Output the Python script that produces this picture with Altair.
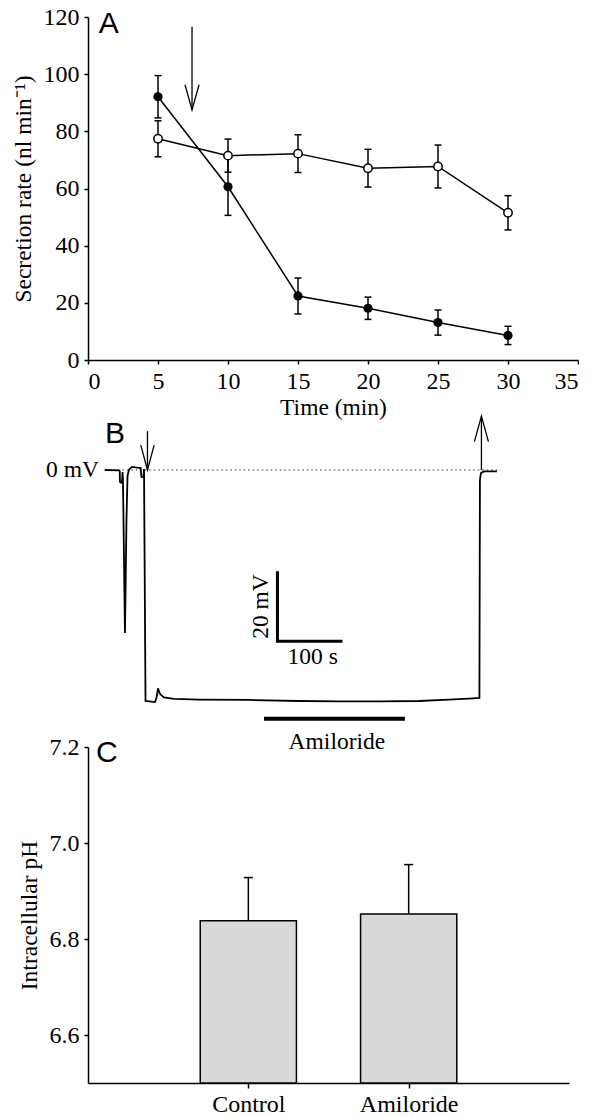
import altair as alt
import pandas as pd

SERIF = "Liberation Serif"
SANS = "Liberation Sans"

# ---------------- Panel A data ----------------
time_min = [5, 10, 15, 20, 25, 30]
rate_open = [77.4, 71.5, 72.2, 67.1, 67.7, 51.5]
err_open = [6.3, 5.8, 6.6, 6.6, 7.5, 6.0]
rate_filled = [92.1, 60.6, 22.4, 18.1, 13.1, 8.6]
err_filled = [7.4, 10.0, 6.3, 3.9, 4.4, 3.2]
a_xticks = [0, 5, 10, 15, 20, 25, 30, 35]
a_yticks = [0, 20, 40, 60, 80, 100, 120]
arrow_a_seg = ["shaft", "shaft", "head", "head", "head"]
arrow_a_x = [7.43, 7.43, 6.93, 7.43, 7.93]
arrow_a_y = [116.6, 87.5, 96.3, 87.5, 96.3]
label_a = ["A"]
label_a_x = [0.76]
label_a_y = [114.4]

# ---------------- Panel B data ----------------
trace_t = [1.2, 22.7, 23.8, 24.2, 27.3, 28.1, 28.8, 31.9, 34.2, 35.8, 38.1, 42.7,
           50.4, 55.8, 57.3, 60.4, 61.2, 63.5, 78.1, 80.4, 82.7, 85.8, 91.9,
           107.3, 145.8, 222.7, 299.6, 361.2, 422.7, 484.2, 530.4, 561.2, 577.3,
           578.1, 579.6, 584.2, 604.2]
trace_mv = [0.0, -0.1, -0.3, -3.4, -3.7, -0.6, -2.9, -46.6, -14.3, -1.7, 0.1, 0.9,
            0.7, 0.6, -2.0, -2.0, 0.3, -66.0, -66.3, -65.1, -62.4, -64.0, -65.0,
            -65.4, -65.6, -65.7, -66.0, -66.1, -66.1, -66.0, -65.6, -65.3, -65.1,
            -2.9, -0.9, -0.4, -0.4]
zero_line_t = [0, 610]
arrow_b_id = ["d_shaft", "d_shaft", "d_head", "d_head", "d_head",
              "u_shaft", "u_shaft", "u_head", "u_head", "u_head"]
arrow_b_t = [66.5, 66.5, 56.2, 66.5, 76.8, 580.4, 580.4, 569.6, 580.4, 591.2]
arrow_b_mv = [11.1, 0.0, 7.1, 0.0, 7.1, 0.0, 15.4, 8.1, 15.4, 8.1]
scalebar_t = [266.5, 266.5, 366.5]
scalebar_mv = [-28.9, -48.9, -48.9]
drug_bar_t = [245.8, 462.7]
drug_bar_mv = -71.1
zero_label = ["0 mV"]
zero_label_t = [-8.1]
zero_label_mv = [0.0]
b_texts = ["100 s", "Amiloride"]
b_text_t = [320.8, 358.0]
b_text_mv = [-53.3, -77.6]
scale_v_label = ["20 mV"]
scale_v_t = [241.0]
scale_v_mv = [-39.0]
label_b = ["B"]
label_b_t = [1.2]
label_b_mv = [7.7]

# ---------------- Panel C data ----------------
c_categories = ["Control", "Amiloride"]
c_pos = [1, 2]
c_ph = [6.838, 6.852]
c_err = [0.090, 0.103]
c_yticks = [6.6, 6.8, 7.0, 7.2]
label_c = ["C"]
label_c_x = [0.05]
label_c_y = [7.169]

# ================= Panel A =================
dfA = pd.DataFrame({
    "t": time_min * 2,
    "rate": rate_open + rate_filled,
    "err": err_open + err_filled,
    "series": ["open"] * 6 + ["filled"] * 6,
})
dfA["lo"] = dfA["rate"] - dfA["err"]
dfA["hi"] = dfA["rate"] + dfA["err"]
dfOpen = dfA[dfA["series"] == "open"].reset_index(drop=True)
dfFilled = dfA[dfA["series"] == "filled"].reset_index(drop=True)

xA = alt.X("t:Q", scale=alt.Scale(domain=[0, 35], nice=False),
           axis=alt.Axis(values=a_xticks, title="Time (min)", titlePadding=2))
yA = alt.Y("lo:Q", scale=alt.Scale(domain=[0, 120], nice=False),
           axis=alt.Axis(values=a_yticks, title="Secretion rate (nl min\u207b\u00b9)",
                         titlePadding=8))

baseA = alt.Chart(dfA)
errA = baseA.mark_rule(color="black", strokeWidth=1.5).encode(x=xA, y=yA, y2="hi:Q")
capLoA = baseA.mark_point(shape="stroke", size=49, strokeWidth=1.5, color="black",
                          opacity=1).encode(x="t:Q", y="lo:Q")
capHiA = baseA.mark_point(shape="stroke", size=49, strokeWidth=1.5, color="black",
                          opacity=1).encode(x="t:Q", y="hi:Q")
lineA = baseA.mark_line(color="black", strokeWidth=1.5).encode(
    x="t:Q", y="rate:Q", detail="series:N")
ptsFilled = alt.Chart(dfFilled).mark_point(filled=True, size=85, color="black",
                                           opacity=1).encode(x="t:Q", y="rate:Q")
ptsOpen = alt.Chart(dfOpen).mark_point(filled=True, size=70, fill="white", stroke="black",
                                       strokeWidth=1.5, opacity=1).encode(x="t:Q", y="rate:Q")

dfArrA = pd.DataFrame({"seg": arrow_a_seg, "x": arrow_a_x, "y": arrow_a_y,
                       "o": list(range(len(arrow_a_x)))})
arrA = alt.Chart(dfArrA).mark_line(color="black", strokeWidth=1.3).encode(
    x="x:Q", y="y:Q", detail="seg:N", order="o:Q")
dfLabA = pd.DataFrame({"txt": label_a, "x": label_a_x, "y": label_a_y})
labA = alt.Chart(dfLabA).mark_text(font=SANS, fontSize=30, align="left",
                                   baseline="alphabetic", color="black").encode(
    x="x:Q", y="y:Q", text="txt:N")

panelA = alt.layer(errA, capLoA, capHiA, lineA, ptsFilled, ptsOpen, arrA, labA).properties(
    width=490, height=343)

# ================= Panel B =================
xB = alt.X("t:Q", scale=alt.Scale(domain=[-25, 729], nice=False), axis=None)
yB = alt.Y("mv:Q", scale=alt.Scale(domain=[-79.14, 31.43], nice=False), axis=None)

dfZero = pd.DataFrame({"t": [zero_line_t[0]], "t2": [zero_line_t[1]], "mv": [0.0]})
zeroB = alt.Chart(dfZero).mark_rule(color="#333333", strokeWidth=1, strokeDash=[1.5, 3]).encode(
    x=xB, x2="t2:Q", y=yB)

dfTrace = pd.DataFrame({"t": trace_t, "mv": trace_mv, "o": list(range(len(trace_t)))})
traceB = alt.Chart(dfTrace).mark_line(color="black", strokeWidth=1.8).encode(
    x="t:Q", y="mv:Q", order="o:Q")

dfArrB = pd.DataFrame({"id": arrow_b_id, "t": arrow_b_t, "mv": arrow_b_mv,
                       "o": list(range(len(arrow_b_t)))})
arrB = alt.Chart(dfArrB).mark_line(color="black", strokeWidth=1.3).encode(
    x="t:Q", y="mv:Q", detail="id:N", order="o:Q")

dfScale = pd.DataFrame({"t": scalebar_t, "mv": scalebar_mv, "o": [0, 1, 2]})
scaleB = alt.Chart(dfScale).mark_line(color="black", strokeWidth=3).encode(
    x="t:Q", y="mv:Q", order="o:Q")

dfDrug = pd.DataFrame({"t": [drug_bar_t[0]], "t2": [drug_bar_t[1]], "mv": [drug_bar_mv]})
drugB = alt.Chart(dfDrug).mark_rule(color="black", strokeWidth=4).encode(
    x="t:Q", x2="t2:Q", y="mv:Q")

dfZL = pd.DataFrame({"txt": zero_label, "t": zero_label_t, "mv": zero_label_mv})
txtZL = alt.Chart(dfZL).mark_text(font=SERIF, fontSize=23.5, align="right", baseline="middle",
                                  color="black").encode(x="t:Q", y="mv:Q", text="txt:N")
dfTxtB = pd.DataFrame({"txt": b_texts, "t": b_text_t, "mv": b_text_mv})
txtB = alt.Chart(dfTxtB).mark_text(font=SERIF, fontSize=23.5, align="center", baseline="middle",
                                   color="black").encode(x="t:Q", y="mv:Q", text="txt:N")
dfSV = pd.DataFrame({"txt": scale_v_label, "t": scale_v_t, "mv": scale_v_mv})
txtSV = alt.Chart(dfSV).mark_text(font=SERIF, fontSize=23.5, align="center", baseline="middle",
                                  angle=270, color="black").encode(
    x="t:Q", y="mv:Q", text="txt:N")
dfLabB = pd.DataFrame({"txt": label_b, "t": label_b_t, "mv": label_b_mv})
labB = alt.Chart(dfLabB).mark_text(font=SANS, fontSize=30, align="left",
                                   baseline="alphabetic", color="black").encode(
    x="t:Q", y="mv:Q", text="txt:N")

panelB = alt.layer(zeroB, traceB, arrB, scaleB, drugB, txtZL, txtB, txtSV, labB).properties(
    width=490, height=387)

# ================= Panel C =================
dfC = pd.DataFrame({"cat": c_categories, "pos": c_pos, "ph": c_ph, "err": c_err})
dfC["x1"] = dfC["pos"] - 0.3
dfC["x2"] = dfC["pos"] + 0.3
dfC["hi"] = dfC["ph"] + dfC["err"]
dfC["base"] = 6.5

label_expr = " : ".join(
    [f"datum.value == {p} ? '{c}'" for p, c in zip(c_pos, c_categories)]) + " : ''"

xC = alt.X("x1:Q", scale=alt.Scale(domain=[0, 3], nice=False),
           axis=alt.Axis(values=c_pos, labelExpr=label_expr, title=None, tickSize=5,
                         labelPadding=4))
yC = alt.Y("base:Q", scale=alt.Scale(domain=[6.5, 7.2], nice=False),
           axis=alt.Axis(values=c_yticks, format=".1f", title="Intracellular pH",
                         titlePadding=8))

barsC = alt.Chart(dfC).mark_rect(fill="#d9d9d9", stroke="black", strokeWidth=1.5).encode(
    x=xC, x2="x2:Q", y=yC, y2="ph:Q")
errC = alt.Chart(dfC).mark_rule(color="black", strokeWidth=1.5).encode(
    x="pos:Q", y="ph:Q", y2="hi:Q")
capC = alt.Chart(dfC).mark_point(shape="stroke", size=81, strokeWidth=1.5, color="black",
                                 opacity=1).encode(x="pos:Q", y="hi:Q")
dfLabC = pd.DataFrame({"txt": label_c, "x": label_c_x, "y": label_c_y})
labC = alt.Chart(dfLabC).mark_text(font=SANS, fontSize=30, align="left",
                                   baseline="alphabetic", color="black").encode(
    x="x:Q", y="y:Q", text="txt:N")

panelC = alt.layer(barsC, errC, capC, labC).properties(width=481, height=336)

chart = alt.vconcat(panelA, panelB, panelC, spacing=0, bounds="flush").properties(
    padding={"left": 11, "top": 5, "right": 0, "bottom": 0}
).configure_view(stroke=None).configure_axis(
    grid=False,
    domainColor="black", domainWidth=1.5,
    tickColor="black", tickWidth=1.5, tickSize=4,
    labelFont=SERIF, labelFontSize=24, labelColor="black", labelPadding=5,
    titleFont=SERIF, titleFontSize=23.5, titleFontWeight="normal", titleColor="black",
)

chart.save("out.html", embed_options={"renderer": "svg", "actions": False})
